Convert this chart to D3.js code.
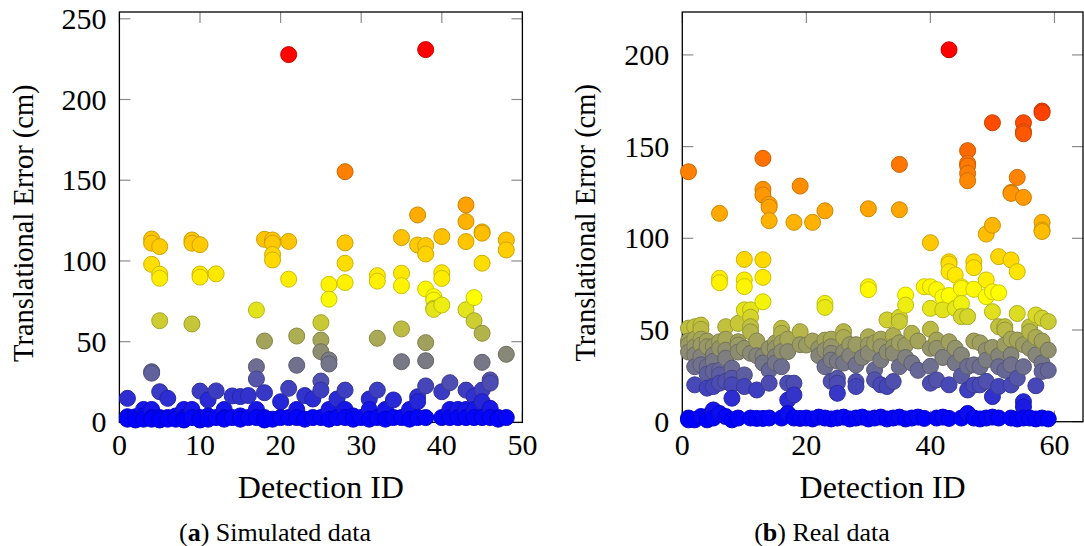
<!DOCTYPE html>
<html><head><meta charset="utf-8">
<script src="https://cdn.jsdelivr.net/npm/d3@7"></script>
<style>
body{margin:0;background:#fff}
svg{display:block}
svg text{font-family:"Liberation Serif","DejaVu Serif","Times New Roman",Times,serif}
</style>
</head><body>
<svg id="chart" width="1084" height="546"></svg>
<script>
// ---------- Simulated data (a) ----------
const simIds = [1,2,3,4,5,6,7,8,9,10,11,12,13,14,15,16,17,18,19,20,21,22,23,24,25,26,27,28,29,30,31,32,33,34,35,36,37,38,39,40,41,42,43,44,45,46,47,48];
const simErrors = [
  [14.9,3.5,2],[3.5,1.5],[8,4,2],[113.6,111,97.9,31.4,30.5,8,3,2],[108.9,91.8,89.3,63,19,3,1.5],
  [14.9,3,2],[4,2],[8,3,1.5],[113,111,61,8,3],[110.1,91.9,90,19.4,3,1.5],
  [13.9,4,2],[92,19.5,3],[8,3,2],[16.4,3],[16,4,2],
  [16.6,3],[69.6,34.5,26.9,8,3],[113.4,50.4,18.4,3,1.5],[113,111,104,100.6,2],[12.8,3],
  [227.8,112.1,88.7,21.1,3],[53.5,35.4,8,3],[16.6,2],[14.5,3],[61.8,51,43.8,25.6,20,3],
  [85.5,76.3,38.7,36.2,8,2],[14.5,3],[155.3,111.2,98.6,86.6,20,8,3],[4,2],[3],
  [14.5,8,2],[90.9,87.5,52.1,20,3],[8,2],[13.9,3],[114.5,92.4,84.7,57.9,37.6,3],
  [8,2],[128.5,109.9,15.9,12.8,3],[230.9,109.5,104.3,82.6,49.4,38.2,22.6,3],[77.9,75.8,70.7,70],[115.1,92.7,89.2,72.7,19,3],
  [24.6,8,3],[8,3],[134.7,124.4,112,69.8,20,8,3],[77.3,63,16.2,8,3],[118,117.2,98.6,55.2,37.2,20,12.8,3],
  [26.3,24.3,8.7,3],[3,2],[113,106.8,42.2,3]
];
const simXTicks = [0,10,20,30,40,50];
const simYTicks = [0,50,100,150,200,250];

// ---------- Real data (b) ----------
const realIds = [1,2,3,4,5,6,7,8,9,10,11,12,13,14,15,16,17,18,19,20,21,22,23,24,25,26,27,28,29,30,31,32,33,34,35,36,37,38,39,40,41,42,43,44,45,46,47,48,49,50,51,52,53,54,55,56,57,58,59];
const realErrors = [
  [136.3,51,44,42,38,2,1],[51.8,45,40.9,36.4,30,20.1,1],[52.7,50.4,45,41.8,35.5,31,2.8],[44,40.9,30,26,18.3,2.8,1],[41,36.4,33,27.4,19.2,6.4,2],
  [113.6,78.2,75.8,43.6,40,28,25.5,21,4.5],[51.8,45,39,34.6,22,2.8],[29.2,23.7,20.1,12.8,1],[53.6,43.6,41.8,38,2],[88.5,77.3,73.7,61,40,25.5,19.2],
  [61,57,51.8,49,37.3,2],[44,36,17.3,1.8],[143.6,126.7,123.6,88.3,78.7,65.4,35.8,32,1.8],[118.5,117,109.6,40,28,21,2],[43,40,35.5,32],
  [50.9,48.2,43,38.2,30,2],[45,38.2,21,11.8,4.5],[108.7,21,14.6,2],[128.5,49.1,42,1.8],[41.8,2],
  [108.7,44,1.5],[40,36,2.5],[115,64.5,62.3,44.5,39,30,2],[45,40.9,37.3,33.6,22,1.5],[33,23.7,21,15.5,2],
  [49.1,46,38,32,2.5],[42,36,1.5],[42,31,21.9,19.2,2],[35,2.5],[116.1,73.6,72,46.3,41.8,37.3,1.5],
  [43,28.3,22.8,2],[45,40.9,33.6,20.1,2.5],[55.5,38,19.2,1.5],[47,40.9,37.3,21.9,2],[140.3,115.6,57,54.6,43,30,2.5],
  [69.1,63.6,41.8,35,1.5],[48.2,32,2],[44,28,2.5],[73.6,1.8],[97.6,73.6,61.8,50.4,40,30.2,21],
  [72,44.5,40,22.8,2],[68,61,35,2.5],[202.8,87.2,86,81.8,68.8,43.6,20.1,1.8],[80,61.8,40,32],[73.6,72.7,64.5,57.3,36.4,25,2],
  [147.8,140.9,139.5,135.4,131.4,57.3,30.1,17.3,4.5],[87.2,84,72.2,44,31,20,2],[43,30,20.1,1.5],[102.3,77.3,68.2,39,33.6,22,2],[163,107.1,70.8,60,40.5,13.7,2.5],
  [90,70.3,51.8,36,30,19.2,2],[51.8,50,42,28],[125,124.5,88.2,45,36.4,31,20,2],[133.2,81.8,59,44.5,23.7,1.5],[163,158.1,157,122.3,42,30,10.9,8.1,2],
  [51.8,49.1,40,2],[58.2,46,36.4,19.6,1.5],[169.4,168.5,108.7,104.5,103.7,56.4,44,32,27.4,2],[54.6,39,28,1.5]
];
const realXTicks = [0,20,40,60];
const realYTicks = [0,50,100,150,200];

const hotColors = ["#0000ff","#ffff00","#ff8000","#ff0000"];

const svg = d3.select("#chart");

function panel(cfg){
  const x = d3.scaleLinear().domain(cfg.xDomain).range([cfg.left, cfg.right]);
  const y = d3.scaleLinear().domain(cfg.yDomain).range([cfg.bottom, cfg.top]);
  const pts = [];
  cfg.ids.forEach((id,i)=>cfg.errors[i].forEach(v=>pts.push({id,v})));
  const mn = d3.min(pts,d=>d.v), mx = d3.max(pts,d=>d.v);
  const color = d3.scaleLinear()
    .domain([mn, mn+(mx-mn)/3, mn+2*(mx-mn)/3, mx])
    .range(hotColors).interpolate(d3.interpolateRgb);
  const g = svg.append("g");
  const tl = 11;
  const tg = g.append("g").attr("stroke","#8c8c8c").attr("stroke-width",1.2);
  cfg.xTicks.forEach(t=>{
    tg.append("line").attr("x1",x(t)).attr("x2",x(t)).attr("y1",cfg.bottom).attr("y2",cfg.bottom-tl);
    tg.append("line").attr("x1",x(t)).attr("x2",x(t)).attr("y1",cfg.top).attr("y2",cfg.top+tl);
  });
  cfg.yTicks.forEach(t=>{
    tg.append("line").attr("x1",cfg.left).attr("x2",cfg.left+tl).attr("y1",y(t)).attr("y2",y(t));
    tg.append("line").attr("x1",cfg.right).attr("x2",cfg.right-tl).attr("y1",y(t)).attr("y2",y(t));
  });
  g.append("rect").attr("x",cfg.left).attr("y",cfg.top)
    .attr("width",cfg.right-cfg.left).attr("height",cfg.bottom-cfg.top)
    .attr("fill","none").attr("stroke","#000").attr("stroke-width",1.3);
  g.append("g").selectAll("text").data(cfg.xTicks).join("text")
    .attr("x",d=>x(d)).attr("y",cfg.bottom+33).attr("text-anchor","middle")
    .attr("font-size",30).text(d=>d);
  g.append("g").selectAll("text").data(cfg.yTicks).join("text")
    .attr("x",cfg.left-13).attr("y",d=>y(d)+10).attr("text-anchor","end")
    .attr("font-size",30).text(d=>d);
  g.append("g").selectAll("circle").data(pts).join("circle")
    .attr("cx",d=>x(d.id)).attr("cy",d=>y(d.v)).attr("r",8)
    .attr("fill",d=>color(d.v))
    .attr("stroke",d=>{const c=d3.rgb(color(d.v));return d3.rgb(c.r*0.8,c.g*0.8,c.b*0.8);})
    .attr("stroke-width",1);
  g.append("text").attr("x",(cfg.left+cfg.right)/2).attr("y",498)
    .attr("text-anchor","middle").attr("font-size",32).text("Detection ID");
  g.append("text").attr("transform",`translate(${cfg.ylabX},${(cfg.top+cfg.bottom)/2 + 6}) rotate(-90)`)
    .attr("text-anchor","middle").attr("font-size",28.5).text("Translational Error (cm)");
  const cap = g.append("text").attr("x",cfg.capX).attr("y",541).attr("text-anchor","middle").attr("font-size",26);
  cap.append("tspan").text("(");
  cap.append("tspan").attr("font-weight","bold").text(cfg.capLetter);
  cap.append("tspan").text(") " + cfg.caption);
}

panel({ids:simIds, errors:simErrors, xDomain:[0,50], yDomain:[0,254.2],
  left:119.4, right:522.4, top:12, bottom:422.4, xTicks:simXTicks, yTicks:simYTicks,
  ylabX:33, capX:275, capLetter:"a", caption:"Simulated data"});
panel({ids:realIds, errors:realErrors, xDomain:[0,64.6], yDomain:[0,223.4],
  left:682.3, right:1083, top:12, bottom:421.7, xTicks:realXTicks, yTicks:realYTicks,
  ylabX:595, capX:822, capLetter:"b", caption:"Real data"});
</script>
</body></html>
